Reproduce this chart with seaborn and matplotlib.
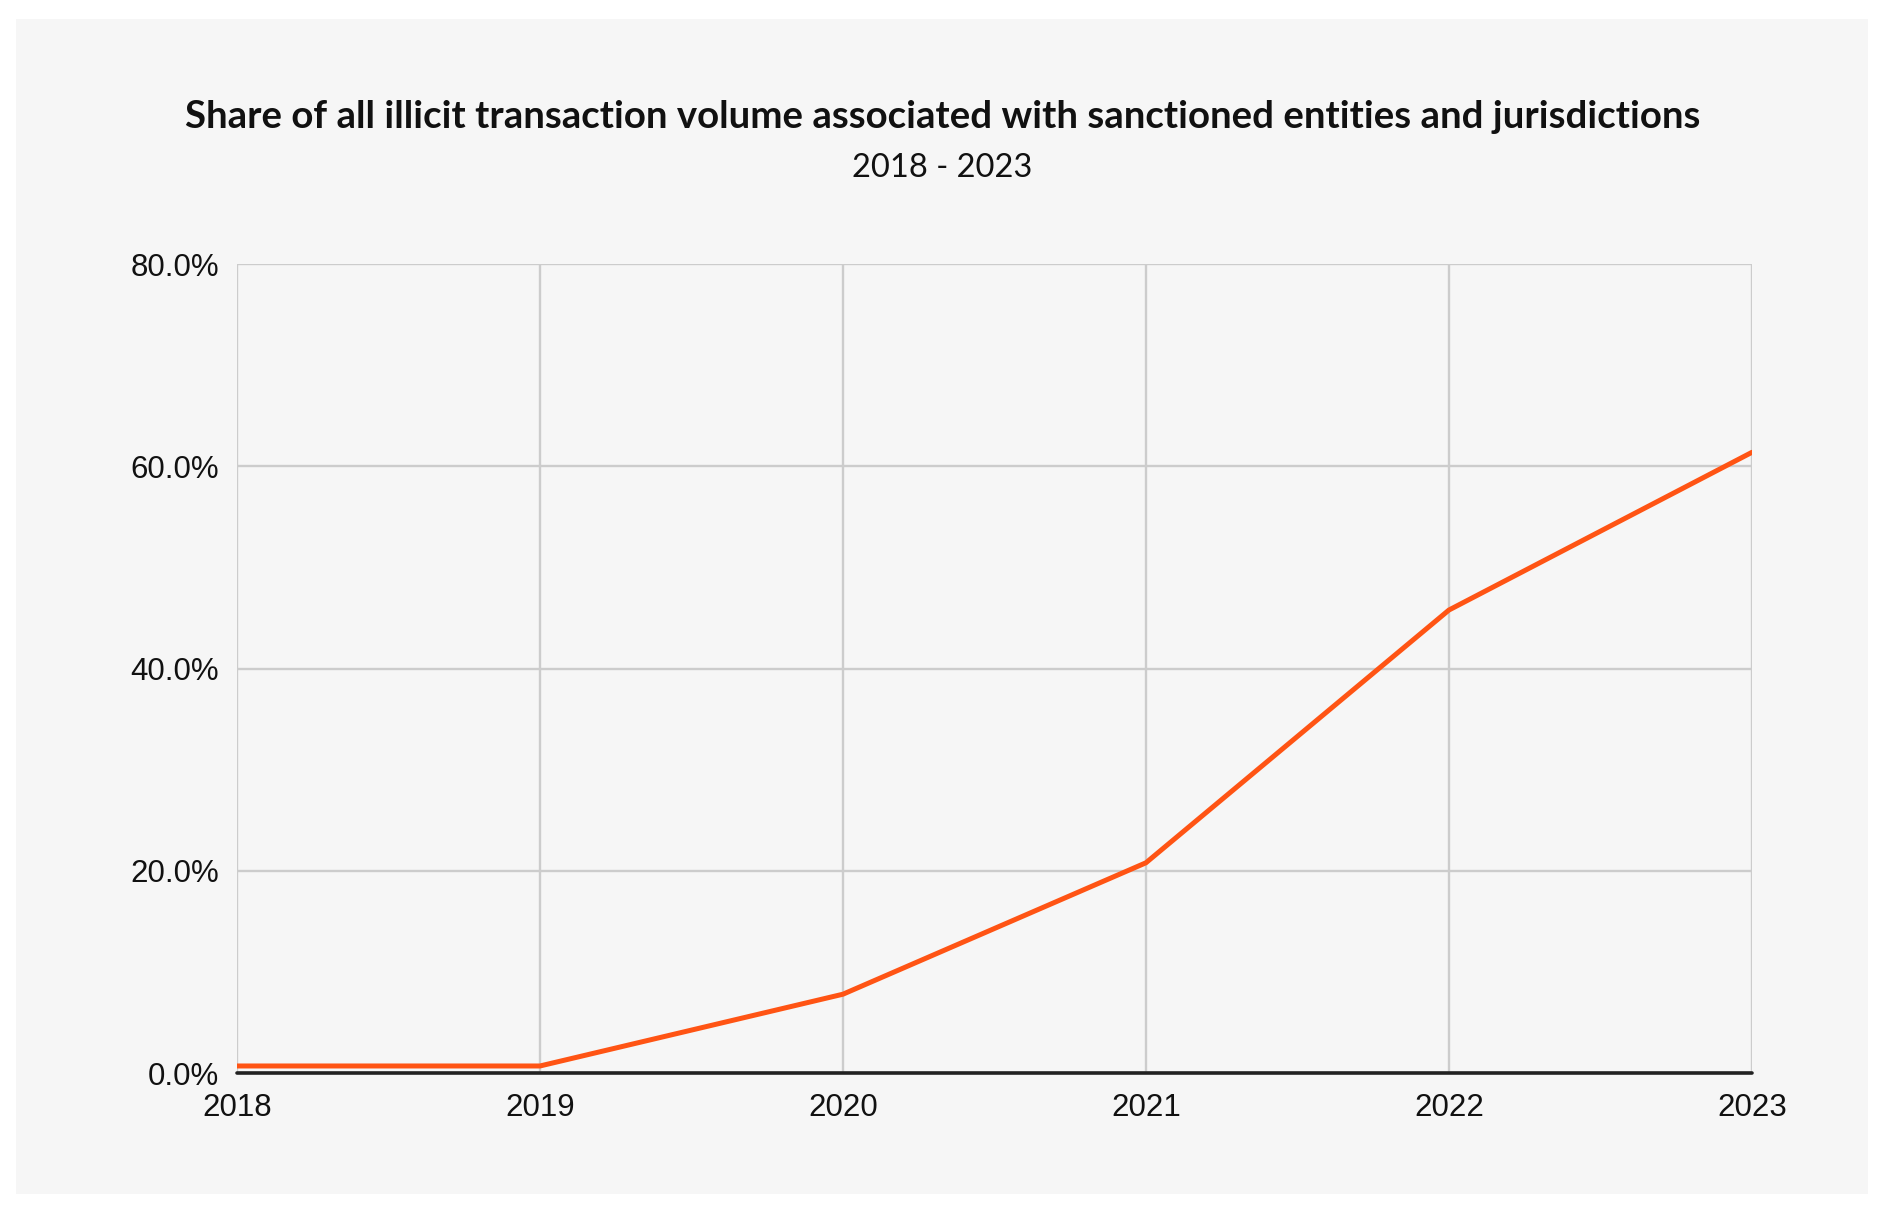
import matplotlib
matplotlib.use("Agg")
import matplotlib.pyplot as plt
import seaborn as sns
import pandas as pd
from matplotlib.patches import Rectangle
from matplotlib.ticker import FuncFormatter

# data
years = [2018, 2019, 2020, 2021, 2022, 2023]
share_pct = [0.7, 0.7, 7.8, 20.8, 45.8, 61.4]
y_ticks = [0, 20, 40, 60, 80]

title = "Share of all illicit transaction volume associated with sanctioned entities and jurisdictions"
subtitle = "2018 - 2023"

df = pd.DataFrame({"year": years, "share": share_pct})

sns.set_theme(style="white")
plt.rcParams['font.family'] = ['Liberation Sans', 'DejaVu Sans']

fig = plt.figure(figsize=(18.96, 12.18), dpi=100)
fig.patch.set_facecolor("white")

# light grey card behind everything
card = fig.add_axes([0, 0, 1, 1], zorder=-10)
card.axis("off")
card.add_patch(Rectangle((0.0084, 0.0197), 0.9768, 0.9647, transform=card.transAxes,
                         facecolor="#f6f6f6", edgecolor="none"))

ax = fig.add_axes([0.125, 0.119, 0.799, 0.664], zorder=1)
ax.set_facecolor("#f6f6f6")

sns.lineplot(data=df, x="year", y="share", ax=ax, color="#ff5414", linewidth=3.6, zorder=3)

ax.set_xlim(2018, 2023)
ax.set_ylim(0, 80)
ax.set_xticks(years)
ax.set_yticks(y_ticks)
ax.yaxis.set_major_formatter(FuncFormatter(lambda v, p: f"{v:.1f}%"))
ax.grid(True, color="#cccccc", linewidth=1.7)
ax.set_axisbelow(True)
for s in ax.spines.values():
    s.set_visible(False)
ax.axhline(0, color="#222222", linewidth=2.6, zorder=4, clip_on=False)
ax.tick_params(axis="both", length=0, labelsize=22.5, colors="#111111")
ax.tick_params(axis="x", pad=14)
ax.tick_params(axis="y", pad=13)
ax.set_xlabel("")
ax.set_ylabel("")

fig.text(0.497, 0.904, title, ha="center", va="center", fontsize=27.6,
         fontweight="bold", family=["Lato", "DejaVu Sans"], color="#111111")
fig.text(0.497, 0.862, subtitle, ha="center", va="center", fontsize=23.5,
         family=["Lato", "DejaVu Sans"], color="#111111")

fig.savefig("out.png", dpi=100, facecolor="white")
